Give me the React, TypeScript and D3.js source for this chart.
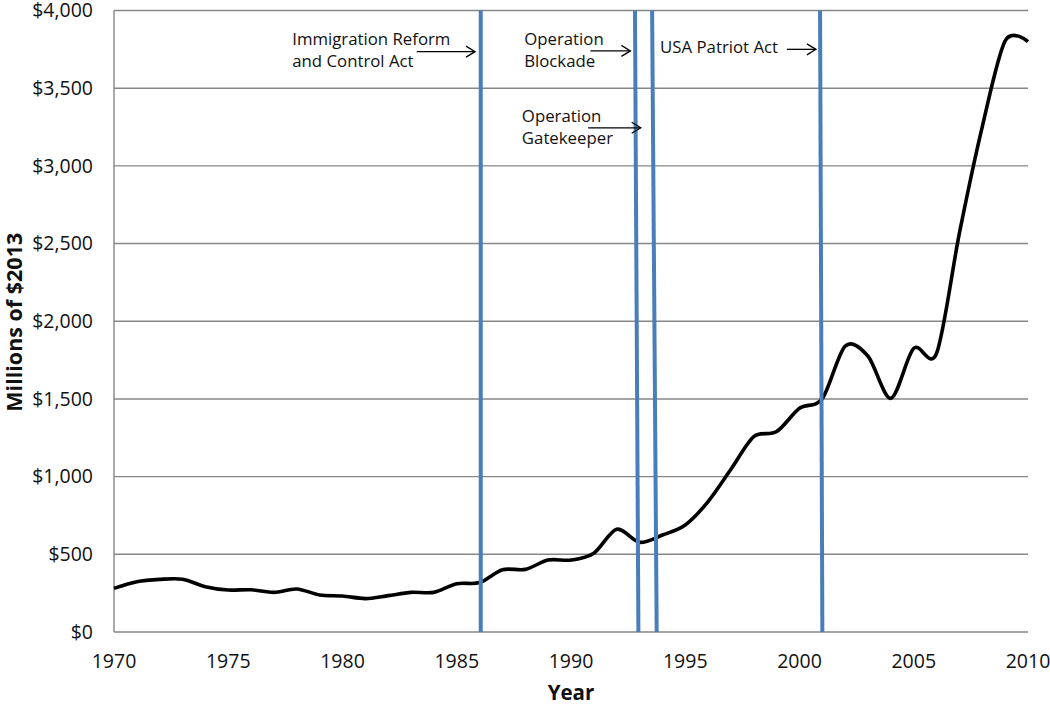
import React from "react";
import * as d3 from "d3";

const years = [1970,1971,1972,1973,1974,1975,1976,1977,1978,1979,1980,1981,1982,1983,1984,1985,1986,1987,1988,1989,1990,1991,1992,1993,1994,1995,1996,1997,1998,1999,2000,2001,2002,2003,2004,2005,2006,2007,2008,2009,2010];
const spending = [281,324,339,340,292,270,272,255,277,238,232,215,234,255,255,311,318,401,403,463,463,507,661,577,624,689,839,1047,1257,1290,1440,1502,1840,1775,1504,1826,1794,2569,3253,3805,3800];

const yTicks = [0,500,1000,1500,2000,2500,3000,3500,4000];
const xTicks = [1970,1975,1980,1985,1990,1995,2000,2005,2010];

// Event lines (slightly slanted in the original): year at top, year at bottom
const eventTopYear = [1986.05, 1992.8, 1993.55, 2000.9];
const eventBottomYear = [1986.05, 1992.95, 1993.75, 2001.0];

// Annotations
const annoLines = [
  ["Immigration Reform", "and Control Act"],
  ["Operation", "Blockade"],
  ["Operation", "Gatekeeper"],
  ["USA Patriot Act"],
];
const annoTextYear = [1977.8, 1987.95, 1987.85, 1993.9];
const annoTextValue = [3778, 3778, 3284, 3726];
const arrowFromYear = [1983.25, 1990.85, 1990.75, 1999.45];
const arrowToYear = [1985.8, 1992.6, 1993.05, 2000.72];
const arrowValue = [3735, 3740, 3245, 3750];

const W = 1050, H = 704;
const FONT = "'Open Sans', 'Noto Sans', sans-serif";

export default function App() {
  const x = d3.scaleLinear().domain([1970, 2010]).range([114, 1028]);
  const y = d3.scaleLinear().domain([0, 4000]).range([632, 10.5]);
  const line = d3.line<number>()
    .x((_, i) => x(years[i]))
    .y((d) => y(d))
    .curve(d3.curveCardinal.tension(0.1));
  const blue = "#4a7ebb";
  const grid = "#878787";

  return (
    <svg width={W} height={H} style={{ position: "absolute", left: 0, top: 0, background: "#fff" }}>
      {yTicks.map((t) => (
        <line key={"g" + t} x1={x(1970)} x2={x(2010)} y1={y(t)} y2={y(t)} stroke={grid} strokeWidth={1.4} />
      ))}
      <line x1={x(1970)} x2={x(1970)} y1={y(0)} y2={y(4000)} stroke={grid} strokeWidth={1.4} />
      {yTicks.map((t) => (
        <text key={"yl" + t} x={93} y={y(t)} dy="0.35em" textAnchor="end" fontFamily={FONT} fontSize={19.5} fill="#111">
          {d3.format("$,")(t)}
        </text>
      ))}
      {xTicks.map((t) => (
        <text key={"xl" + t} x={x(t)} y={668} textAnchor="middle" fontFamily={FONT} fontSize={19.5} fill="#111">
          {t}
        </text>
      ))}
      <text x={x(1990)} y={700} textAnchor="middle" fontFamily={FONT} fontSize={20.5} fontWeight="bold" fill="#111">Year</text>
      <text transform={`translate(22,${y(2000) + 1}) rotate(-90)`} textAnchor="middle" fontFamily={FONT} fontSize={21.5} fontWeight="bold" fill="#111">Millions of $2013</text>

      <path d={line(spending) || ""} fill="none" stroke="#000" strokeWidth={3.6} strokeLinejoin="round" />

      {eventTopYear.map((t, i) => (
        <line key={"ev" + i} x1={x(t)} x2={x(eventBottomYear[i])} y1={y(4000)} y2={y(0)} stroke={blue} strokeWidth={4} />
      ))}

      {annoLines.map((ls, i) => (
        <g key={"an" + i}>
          {ls.map((s, j) => (
            <text key={j} x={x(annoTextYear[i])} y={y(annoTextValue[i]) + j * 22.5} fontFamily={FONT} fontSize={16.8} fill="#111">{s}</text>
          ))}
          <line x1={x(arrowFromYear[i])} x2={x(arrowToYear[i])} y1={y(arrowValue[i])} y2={y(arrowValue[i])} stroke="#000" strokeWidth={1.3} />
          <path d={`M${x(arrowToYear[i]) - 9},${y(arrowValue[i]) - 5.5} L${x(arrowToYear[i])},${y(arrowValue[i])} L${x(arrowToYear[i]) - 9},${y(arrowValue[i]) + 5.5}`} fill="none" stroke="#000" strokeWidth={1.3} />
        </g>
      ))}
    </svg>
  );
}
